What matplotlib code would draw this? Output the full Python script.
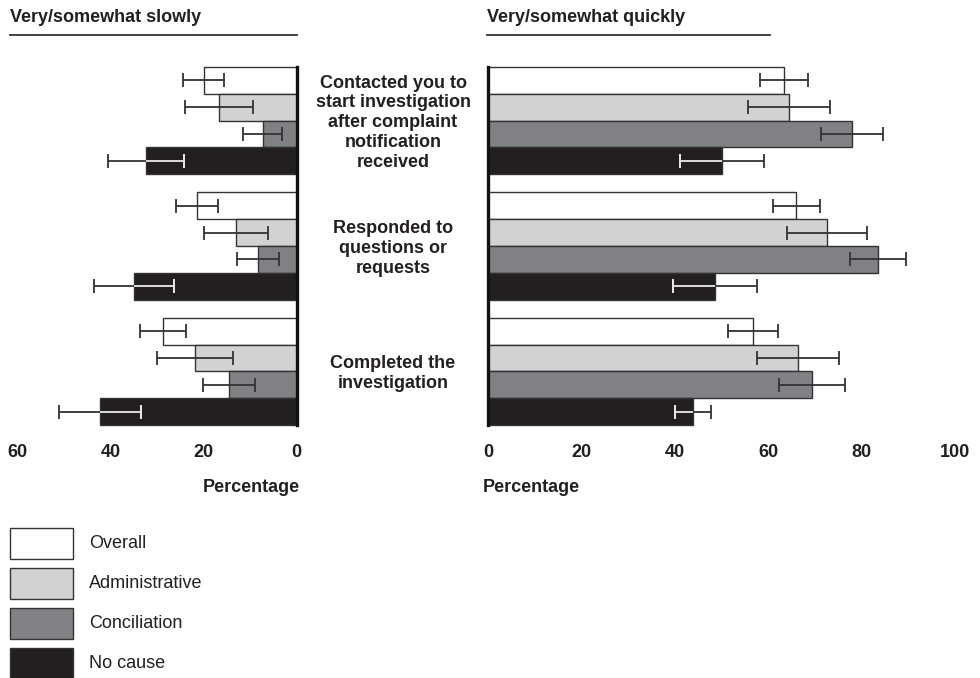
import matplotlib
matplotlib.use("Agg")
import matplotlib.pyplot as plt
from matplotlib.patches import Rectangle
from matplotlib.lines import Line2D
from matplotlib.transforms import blended_transform_factory
import numpy as np

plt.rcParams['font.family'] = ['Liberation Sans', 'DejaVu Sans']

questions = ["Contacted you to\nstart investigation\nafter complaint\nnotification\nreceived",
             "Responded to\nquestions or\nrequests",
             "Completed the\ninvestigation"]
series = ["Overall", "Administrative", "Conciliation", "No cause"]

# Very/somewhat slowly (%), rows = questions, cols = series
slow_vals = [[20.0, 16.6, 7.3, 32.3],
             [21.4, 13.0, 8.3, 35.0],
             [28.7, 21.8, 14.5, 42.3]]
slow_err = [[4.4, 7.3, 4.2, 8.2],
            [4.6, 6.8, 4.6, 8.6],
            [4.9, 8.1, 5.6, 8.8]]
# Very/somewhat quickly (%)
quick_vals = [[63.4, 64.5, 77.9, 50.1],
              [66.0, 72.6, 83.5, 48.6],
              [56.7, 66.4, 69.4, 43.9]]
quick_err = [[5.1, 8.8, 6.6, 9.0],
             [5.0, 8.5, 6.0, 9.0],
             [5.4, 8.8, 7.0, 3.9]]

left_ticks = [60, 40, 20, 0]
right_ticks = [0, 20, 40, 60, 80, 100]

colors = ["#ffffff", "#d1d2d4", "#808184", "#231f20"]
edge = "#333333"
txt = "#231f20"

W, H = 980, 678
fig = plt.figure(figsize=(W / 100, H / 100), dpi=100)

def fx(px):
    return px / W

def fy(py):
    return 1 - py / H

# pixel layout
top_px, bot_px = 62, 430
bar_px = 26.8
group_step = 4.68  # in bar units
y_lo = -0.5 - (67 - top_px) / bar_px
y_hi = -0.5 + (bot_px - 67) / bar_px

ax_l = fig.add_axes([fx(10), fy(bot_px), fx(296.5 - 10), (bot_px - top_px) / H])
ax_r = fig.add_axes([fx(488), fy(bot_px), fx(962 - 488), (bot_px - top_px) / H])
ax_l.set_xlim((296.5 - 10) / 4.65, 0)
ax_r.set_xlim(0, (962 - 488) / 4.67)

n_g = len(questions)
n_s = len(series)
ypos = np.array([[g * group_step + s for s in range(n_s)] for g in range(n_g)])

for ax, vals, errs in [(ax_l, slow_vals, slow_err), (ax_r, quick_vals, quick_err)]:
    vals = np.array(vals)
    errs = np.array(errs)
    for s in range(n_s):
        ax.barh(ypos[:, s], vals[:, s], height=1.0, color=colors[s],
                edgecolor=edge, linewidth=1.0, zorder=2)
        ax.errorbar(vals[:, s], ypos[:, s], xerr=errs[:, s], fmt='none',
                    ecolor=edge, elinewidth=1.3, capsize=5, capthick=1.3, zorder=3)
        if s == n_s - 1:
            # part of the error bar inside the dark bar is drawn in white
            for v, e, y in zip(vals[:, s], errs[:, s], ypos[:, s]):
                ax.plot([v - e, v], [y, y], color="#e8e8e8", lw=1.3, zorder=4,
                        solid_capstyle='butt')
                ax.errorbar([v - e], [y], xerr=[[0], [0]], fmt='none',
                            ecolor="#e8e8e8", elinewidth=0, capsize=5,
                            capthick=1.3, zorder=4)
    ax.set_ylim(y_hi, y_lo)
    ax.set_yticks([])
    for sp in ax.spines.values():
        sp.set_visible(False)
    ax.tick_params(axis='x', length=0, pad=10, labelsize=13, labelcolor=txt)

last_bottom = ypos[-1, -1] + 0.5
ax_l.spines['right'].set_visible(True)
ax_l.spines['right'].set_linewidth(2.4)
ax_l.spines['right'].set_color('#111111')
ax_l.spines['right'].set_bounds(-0.5, last_bottom)
ax_r.spines['left'].set_visible(True)
ax_r.spines['left'].set_linewidth(2.4)
ax_r.spines['left'].set_color('#111111')
ax_r.spines['left'].set_bounds(-0.5, last_bottom)

ax_l.set_xticks(left_ticks)
ax_l.set_xticklabels([str(t) for t in left_ticks], fontweight='bold')
ax_r.set_xticks(right_ticks)
ax_r.set_xticklabels([str(t) for t in right_ticks], fontweight='bold')

# headers
fig.text(fx(10), fy(17), "Very/somewhat slowly", fontsize=13, fontweight='bold',
         ha='left', va='center', color=txt)
fig.text(fx(487), fy(17), "Very/somewhat quickly", fontsize=13, fontweight='bold',
         ha='left', va='center', color=txt)
fig.add_artist(Line2D([fx(10), fx(297)], [fy(35), fy(35)], color='#333333', lw=1.3))
fig.add_artist(Line2D([fx(487), fx(770)], [fy(35), fy(35)], color='#333333', lw=1.3))

# group labels
tr = blended_transform_factory(fig.transFigure, ax_r.transData)
for g, q in enumerate(questions):
    yc = ypos[g].mean() + 0.08
    fig.text(fx(393), yc, q, transform=tr, ha='center', va='center',
             fontsize=13, fontweight='bold', linespacing=1.22, color=txt)

# axis titles
fig.text(fx(300), fy(487), "Percentage", fontsize=13, fontweight='bold',
         ha='right', va='center', color=txt)
fig.text(fx(483), fy(487), "Percentage", fontsize=13, fontweight='bold',
         ha='left', va='center', color=txt)

# legend (drawn as figure-level patches)
for i, (c, name) in enumerate(zip(colors, series)):
    top = 528 + i * 40
    fig.add_artist(Rectangle((fx(10), fy(top + 31)), fx(73) - fx(10), 31 / H,
                             facecolor=c, edgecolor=edge, linewidth=1.0,
                             transform=fig.transFigure))
    fig.text(fx(89), fy(top + 15.5), name, fontsize=13, ha='left', va='center',
             color=txt)

fig.savefig("out.png", dpi=100)
